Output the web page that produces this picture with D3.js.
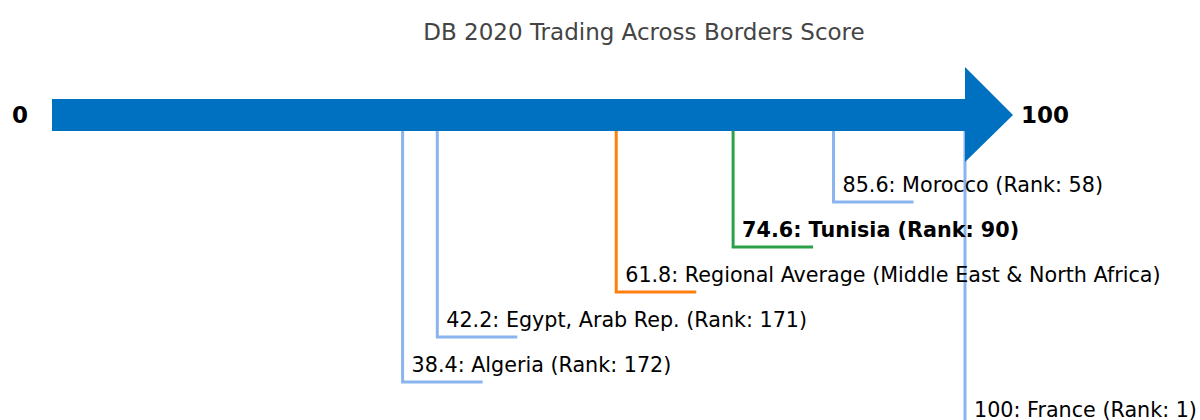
<!DOCTYPE html>
<html>
<head>
<meta charset="utf-8">
<script src="https://cdn.jsdelivr.net/npm/d3@7"></script>
<style>
  body { margin: 0; background: #fff; }
  text { font-family: "DejaVu Sans", sans-serif; }
</style>
</head>
<body>
<div id="chart"></div>
<script>
// data, in the order the labels stack downwards
var names = ["Morocco", "Tunisia", "Regional Average (Middle East & North Africa)", "Egypt, Arab Rep.", "Algeria", "France"];
var scores = [85.6, 74.6, 61.8, 42.2, 38.4, 100];
var ranks = [58, 90, null, 171, 172, 1];
var kinds = ["peer", "focus", "region", "peer", "peer", "peer"];

var svgWidth = 1200;
var svgHeight = 420;

var svg = d3.select("#chart")
  .append("svg")
  .attr("width", svgWidth)
  .attr("height", svgHeight);

var x = d3.scaleLinear().domain([0, 100]).range([52, 965]);
var y = d3.scaleLinear().domain([0, 5]).range([202, 427]);

var colors = { peer: "#8ab4ee", focus: "#2ca048", region: "#ff7f0e" };

var arrowTop = 99, arrowBottom = 131, arrowMid = 115;

var rows = names.map(function(n, i) {
  return { name: n, score: scores[i], rank: ranks[i], kind: kinds[i], level: i };
});

// title
svg.append("text")
  .attr("x", 644)
  .attr("y", 40)
  .attr("text-anchor", "middle")
  .attr("font-size", 23)
  .attr("fill", "#444")
  .text("DB 2020 Trading Across Borders Score");

// connector lines
svg.selectAll(".leader")
  .data(rows)
  .enter()
  .append("path")
  .attr("class", "leader")
  .attr("d", d => `M${x(d.score)},${arrowBottom} V${y(d.level)} H${x(d.score) + 80}`)
  .attr("fill", "none")
  .attr("stroke", d => colors[d.kind])
  .attr("stroke-width", 3);

// the arrow itself
var shaftEnd = x(100);
svg.append("rect")
  .attr("x", x(0))
  .attr("y", arrowTop)
  .attr("width", shaftEnd - x(0))
  .attr("height", arrowBottom - arrowTop)
  .attr("fill", "#0070c0");

svg.append("path")
  .attr("d", `M${shaftEnd},67 L${shaftEnd + 48},${arrowMid} L${shaftEnd},162 Z`)
  .attr("fill", "#0070c0");

// end labels
svg.append("text")
  .attr("x", 20)
  .attr("y", arrowMid)
  .attr("dy", "0.35em")
  .attr("text-anchor", "middle")
  .attr("font-size", 23)
  .attr("font-weight", "bold")
  .text("0");

svg.append("text")
  .attr("x", 1021)
  .attr("y", arrowMid)
  .attr("dy", "0.35em")
  .attr("font-size", 23)
  .attr("font-weight", "bold")
  .text("100");

// country labels
svg.selectAll(".label")
  .data(rows)
  .enter()
  .append("text")
  .attr("class", "label")
  .attr("x", d => x(d.score) + 9)
  .attr("y", d => y(d.level) - 10)
  .attr("font-size", 20.7)
  .attr("font-weight", d => d.kind == "focus" ? "bold" : "normal")
  .attr("fill", "#000")
  .text(d => d.score + ": " + d.name + (d.rank != null ? " (Rank: " + d.rank + ")" : ""));
</script>
</body>
</html>
